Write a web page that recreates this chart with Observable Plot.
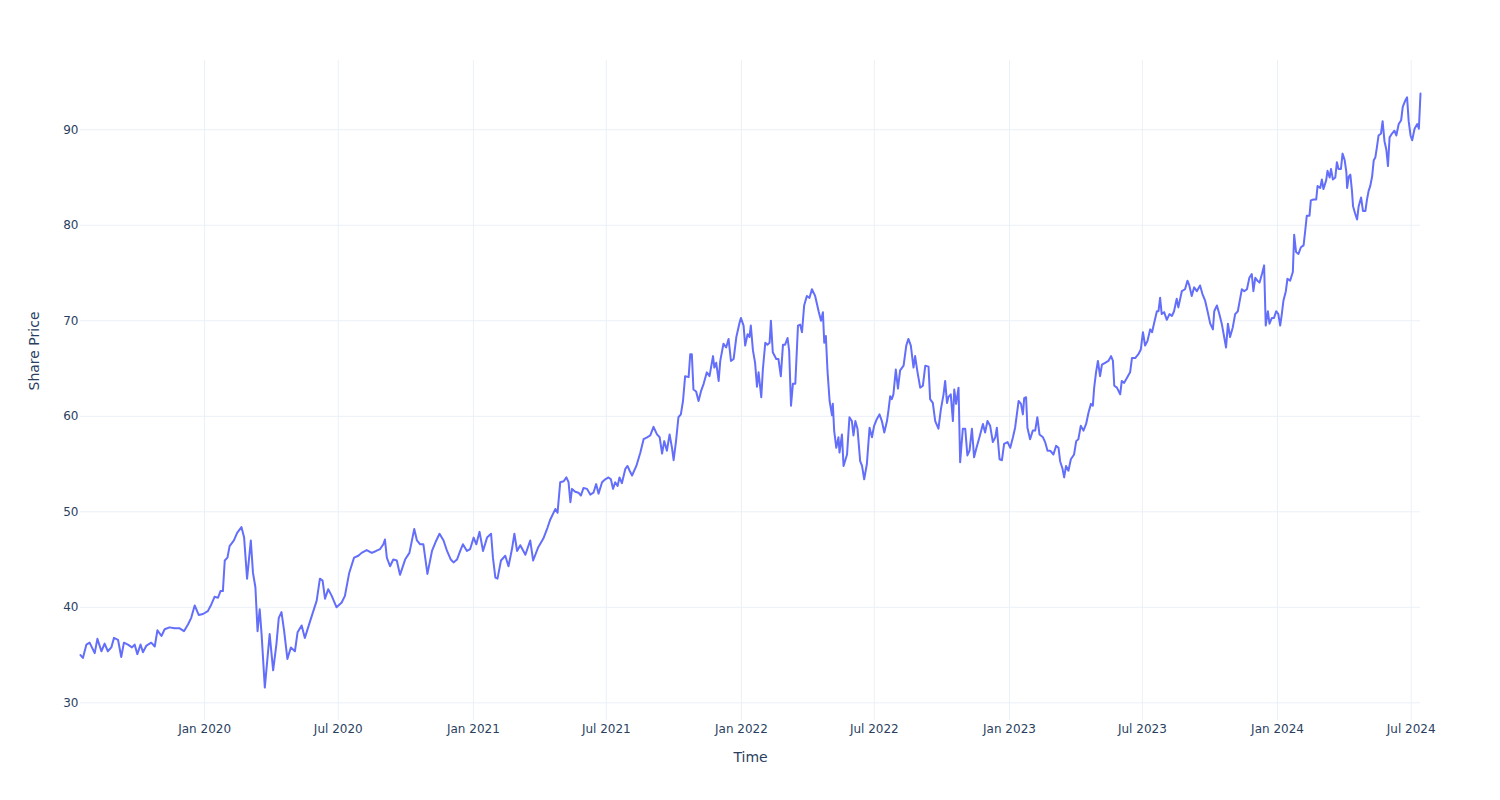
<!DOCTYPE html>
<html><head><meta charset="utf-8">
<script src="https://cdn.jsdelivr.net/npm/d3@7"></script>
<script src="https://cdn.jsdelivr.net/npm/@observablehq/plot@0.6"></script>
<style>body{margin:0;background:#fff;font-family:"DejaVu Sans",sans-serif}</style>
</head><body><div id="chart"></div>
<script>
// Time of each observation as a decimal year
const timeYears = [
2019.537,2019.546,2019.559,2019.571,2019.590,2019.600,2019.615,2019.627,2019.639,2019.652,
2019.662,2019.677,2019.689,2019.699,2019.714,2019.729,2019.739,2019.749,2019.761,2019.770,
2019.783,2019.801,2019.814,2019.824,2019.839,2019.851,2019.869,2019.888,2019.907,2019.923,
2019.938,2019.950,2019.963,2019.978,2019.994,2020.012,2020.025,2020.037,2020.050,2020.059,
2020.068,2020.075,2020.085,2020.093,2020.109,2020.121,2020.137,2020.147,2020.158,2020.172,
2020.180,2020.189,2020.197,2020.205,2020.212,2020.224,2020.234,2020.242,2020.255,2020.267,
2020.276,2020.286,2020.296,2020.308,2020.321,2020.336,2020.346,2020.361,2020.373,2020.392,
2020.417,2020.429,2020.439,2020.448,2020.460,2020.473,2020.491,2020.510,2020.522,2020.538,
2020.556,2020.572,2020.584,2020.603,2020.622,2020.638,2020.653,2020.665,2020.671,2020.678,
2020.690,2020.702,2020.715,2020.727,2020.746,2020.762,2020.780,2020.790,2020.802,2020.814,
2020.829,2020.846,2020.862,2020.874,2020.889,2020.902,2020.916,2020.926,2020.939,2020.951,
2020.961,2020.976,2020.988,2021.001,2021.011,2021.023,2021.036,2021.051,2021.066,2021.073,
2021.082,2021.090,2021.103,2021.119,2021.131,2021.144,2021.153,2021.163,2021.175,2021.194,
2021.212,2021.223,2021.242,2021.261,2021.276,2021.287,2021.306,2021.314,2021.324,2021.337,
2021.347,2021.355,2021.362,2021.368,2021.380,2021.392,2021.401,2021.411,2021.424,2021.436,
2021.448,2021.458,2021.467,2021.480,2021.492,2021.504,2021.513,2021.521,2021.529,2021.538,
2021.545,2021.554,2021.567,2021.575,2021.583,2021.592,2021.608,2021.623,2021.635,2021.648,
2021.660,2021.672,2021.685,2021.695,2021.704,2021.712,2021.722,2021.732,2021.741,2021.747,
2021.756,2021.765,2021.774,2021.782,2021.790,2021.803,2021.809,2021.815,2021.821,2021.831,
2021.840,2021.849,2021.859,2021.871,2021.881,2021.894,2021.899,2021.906,2021.915,2021.921,
2021.933,2021.943,2021.952,2021.961,2021.971,2021.981,2021.993,2021.998,2022.008,2022.014,
2022.023,2022.030,2022.035,2022.043,2022.051,2022.058,2022.064,2022.074,2022.080,2022.089,
2022.097,2022.105,2022.110,2022.117,2022.130,2022.138,2022.147,2022.155,2022.163,2022.172,
2022.178,2022.185,2022.192,2022.201,2022.211,2022.219,2022.226,2022.234,2022.244,2022.254,
2022.263,2022.275,2022.288,2022.297,2022.304,2022.309,2022.315,2022.321,2022.329,2022.338,
2022.341,2022.346,2022.354,2022.362,2022.366,2022.375,2022.381,2022.394,2022.403,2022.412,
2022.418,2022.425,2022.433,2022.443,2022.450,2022.458,2022.468,2022.478,2022.487,2022.495,
2022.505,2022.515,2022.524,2022.533,2022.543,2022.549,2022.555,2022.561,2022.567,2022.576,
2022.584,2022.592,2022.605,2022.615,2022.623,2022.632,2022.642,2022.648,2022.657,2022.667,
2022.677,2022.686,2022.698,2022.704,2022.714,2022.723,2022.735,2022.744,2022.754,2022.760,
2022.767,2022.772,2022.781,2022.789,2022.794,2022.801,2022.810,2022.816,2022.826,2022.835,
2022.843,2022.851,2022.860,2022.868,2022.876,2022.888,2022.901,2022.909,2022.918,2022.928,
2022.938,2022.947,2022.953,2022.963,2022.972,2022.980,2022.993,2023.003,2023.013,2023.021,
2023.034,2023.043,2023.050,2023.055,2023.062,2023.067,2023.077,2023.087,2023.096,2023.104,
2023.112,2023.125,2023.133,2023.142,2023.152,2023.164,2023.174,2023.183,2023.189,2023.198,
2023.204,2023.211,2023.220,2023.229,2023.241,2023.249,2023.257,2023.266,2023.276,2023.286,
2023.295,2023.304,2023.311,2023.316,2023.323,2023.330,2023.338,2023.345,2023.357,2023.369,
2023.379,2023.386,2023.391,2023.401,2023.413,2023.419,2023.428,2023.438,2023.450,2023.457,
2023.469,2023.481,2023.490,2023.498,2023.506,2023.515,2023.525,2023.532,2023.540,2023.550,
2023.556,2023.562,2023.568,2023.577,2023.587,2023.597,2023.606,2023.614,2023.624,2023.630,
2023.643,2023.655,2023.664,2023.671,2023.680,2023.689,2023.699,2023.711,2023.720,2023.730,
2023.739,2023.749,2023.759,2023.764,2023.774,2023.783,2023.792,2023.801,2023.808,2023.815,
2023.823,2023.833,2023.842,2023.852,2023.861,2023.867,2023.876,2023.886,2023.895,2023.904,
2023.910,2023.917,2023.925,2023.933,2023.942,2023.950,2023.956,2023.964,2023.970,2023.979,
2023.987,2023.995,2024.003,2024.010,2024.016,2024.022,2024.031,2024.037,2024.047,2024.057,
2024.062,2024.069,2024.078,2024.087,2024.097,2024.103,2024.109,2024.119,2024.124,2024.134,
2024.144,2024.149,2024.159,2024.165,2024.171,2024.181,2024.186,2024.194,2024.199,2024.206,
2024.215,2024.221,2024.227,2024.236,2024.242,2024.250,2024.256,2024.259,2024.265,2024.271,
2024.277,2024.281,2024.289,2024.296,2024.302,2024.311,2024.318,2024.327,2024.333,2024.339,
2024.345,2024.352,2024.358,2024.364,2024.370,2024.376,2024.385,2024.391,2024.398,2024.405,
2024.411,2024.417,2024.426,2024.435,2024.442,2024.451,2024.460,2024.466,2024.476,2024.482,
2024.488,2024.495,2024.501,2024.510,2024.520,2024.526,2024.532
];
// Share price at each observation
const sharePrice = [
35.0,34.7,36.1,36.3,35.2,36.7,35.4,36.2,35.4,35.8,
36.8,36.6,34.8,36.3,36.1,35.8,36.1,35.1,36.1,35.3,
36.0,36.3,35.9,37.6,37.0,37.7,37.9,37.8,37.8,37.5,
38.2,38.9,40.2,39.2,39.3,39.6,40.3,41.1,41.0,41.7,
41.7,44.9,45.2,46.4,47.0,47.8,48.4,47.3,43.0,47.0,
43.6,42.1,37.5,39.8,37.2,31.6,34.7,37.2,33.4,36.1,
38.9,39.5,37.5,34.6,35.8,35.4,37.4,38.1,36.8,38.5,
40.7,43.0,42.8,40.9,41.9,41.2,40.0,40.5,41.2,43.6,
45.2,45.4,45.7,46.0,45.7,45.9,46.1,46.6,47.1,45.2,
44.3,45.0,44.9,43.4,45.0,45.7,48.2,47.0,46.6,46.6,
43.5,45.9,47.0,47.7,47.0,45.9,45.0,44.7,45.0,45.9,
46.6,45.9,46.1,47.3,46.6,47.9,45.9,47.3,47.7,45.2,
43.1,43.0,44.9,45.4,44.3,46.1,47.7,45.9,46.5,45.5,
47.0,44.9,46.3,47.2,48.3,49.2,50.3,49.9,53.1,53.2,
53.6,53.1,51.0,52.4,52.1,52.0,51.7,52.5,52.4,51.8,
52.0,52.9,51.9,53.1,53.4,53.6,53.4,52.4,53.1,52.7,
53.6,53.0,54.5,54.8,54.3,53.8,54.8,56.2,57.6,57.8,
58.0,58.9,58.1,57.8,56.1,57.4,56.4,58.1,56.7,55.4,
57.4,59.9,60.2,61.6,64.2,64.1,66.5,66.5,62.8,62.6,
61.6,62.6,63.4,64.6,64.2,66.3,65.1,65.6,63.7,65.8,
67.6,67.2,68.1,65.8,66.0,68.3,69.8,70.3,69.5,67.4,
68.6,68.3,69.5,66.9,65.6,63.1,64.6,62.0,64.9,67.7,
67.5,67.7,70.0,66.7,66.0,66.0,64.2,67.5,67.5,68.2,
66.9,61.1,63.4,63.4,69.5,69.6,68.8,71.6,72.6,72.4,
73.3,72.6,71.0,70.0,70.9,67.7,68.4,64.8,61.6,60.1,
61.3,58.5,56.7,57.8,56.2,58.1,54.8,56.0,59.9,59.5,
58.0,59.5,58.7,55.3,54.8,53.4,55.0,58.8,57.8,59.0,
59.7,60.2,59.5,58.3,59.5,60.7,62.1,61.8,62.3,64.9,
62.9,64.8,65.3,67.4,68.1,67.4,65.1,66.3,64.6,63.0,
63.2,65.3,65.2,61.8,61.4,59.5,58.7,60.7,62.3,63.7,
61.4,62.0,62.3,59.5,62.8,61.3,63.0,55.2,58.7,58.7,
55.9,56.4,58.7,55.7,56.6,57.8,59.2,58.3,59.5,59.0,
57.3,57.8,58.8,55.5,55.4,57.1,57.3,56.7,57.8,58.8,
61.6,61.3,60.2,61.9,62.0,58.8,57.6,58.5,58.5,59.9,
58.1,57.8,57.3,56.4,56.4,56.0,56.9,56.7,55.3,54.5,
53.6,54.8,54.3,55.5,56.0,57.4,57.6,59.0,58.5,59.2,
60.4,61.3,61.1,63.0,64.6,65.8,64.2,65.4,65.6,65.8,
66.3,65.8,63.2,63.0,62.3,63.7,63.5,64.0,64.6,66.1,
66.1,66.5,67.0,68.8,67.4,67.9,69.1,68.8,69.8,71.0,
71.0,72.4,70.7,70.9,70.1,70.7,70.5,71.0,72.3,71.4,
73.1,73.3,74.2,73.7,72.6,73.5,73.1,73.7,72.8,72.1,
71.0,69.7,69.1,71.0,71.6,70.7,69.7,68.3,67.2,69.7,
68.3,69.3,70.7,71.0,72.4,73.3,73.1,73.3,74.5,74.9,
73.1,74.5,74.2,74.0,74.9,75.8,69.5,71.0,69.7,70.3,
70.3,71.0,70.7,69.5,70.7,72.1,73.1,74.4,74.2,75.1,
79.0,77.2,77.0,77.7,77.9,79.4,81.0,81.0,82.6,82.7,
82.7,84.1,83.9,84.8,83.8,84.7,85.7,85.0,85.9,84.8,
85.0,86.6,85.9,85.9,87.5,86.8,85.6,83.9,85.1,85.3,
83.6,82.0,81.2,80.6,82.0,82.9,81.5,81.5,82.7,83.6,
84.1,85.1,86.8,87.1,88.2,89.4,89.6,90.9,88.8,87.9,
86.2,89.2,89.6,89.9,89.4,90.6,91.0,92.4,93.1,93.4,
90.9,89.4,88.9,90.1,90.6,90.1,93.8
];
const yTicks = [30, 40, 50, 60, 70, 80, 90];
const xTicks = ["2020-01-01","2020-07-01","2021-01-01","2021-07-01","2022-01-01",
                "2022-07-01","2023-01-01","2023-07-01","2024-01-01","2024-07-01"];
const xTitle = "Time";
const yTitle = "Share Price";

function yearToDate(t) {
  const y = Math.floor(t);
  const start = Date.UTC(y, 0, 1), end = Date.UTC(y + 1, 0, 1);
  return new Date(start + (t - y) * (end - start));
}
const data = timeYears.map((t, i) => ({date: yearToDate(t), price: sharePrice[i]}));
const xTickDates = xTicks.map(s => new Date(s + "T00:00:00Z"));

const textColor = "#2a3f5f";
const gridColor = "#EBF0F8";

const chart = Plot.plot({
  width: 1500, height: 800,
  marginLeft: 80, marginRight: 80, marginTop: 60, marginBottom: 80,
  style: {fontFamily: '"DejaVu Sans", sans-serif', fontSize: "12px", color: textColor, background: "#fff", overflow: "visible"},
  x: {type: "utc", domain: [data[0].date, data[data.length - 1].date]},
  y: {domain: [28.15, 97.25]},
  marks: [
    Plot.gridX(xTickDates, {stroke: gridColor, strokeOpacity: 1, strokeWidth: 1}),
    Plot.gridY(yTicks, {stroke: gridColor, strokeOpacity: 1, strokeWidth: 1}),
    Plot.axisX(xTickDates, {tickSize: 0, tickPadding: 4, tickFormat: d3.utcFormat("%b %Y"), label: null, fill: textColor}),
    Plot.axisY(yTicks, {tickSize: 0, tickPadding: 2, label: null, fill: textColor}),
    Plot.line(data, {x: "date", y: "price", stroke: "#636efa", strokeWidth: 2, strokeLinejoin: "round"}),
    Plot.text([xTitle], {text: d => d, frameAnchor: "bottom", dy: 41, fontSize: 14, fill: textColor}),
    Plot.text([yTitle], {text: d => d, frameAnchor: "left", dx: -46, rotate: -90, fontSize: 14, fill: textColor})
  ]
});
document.getElementById("chart").appendChild(chart);
</script>
</body></html>
